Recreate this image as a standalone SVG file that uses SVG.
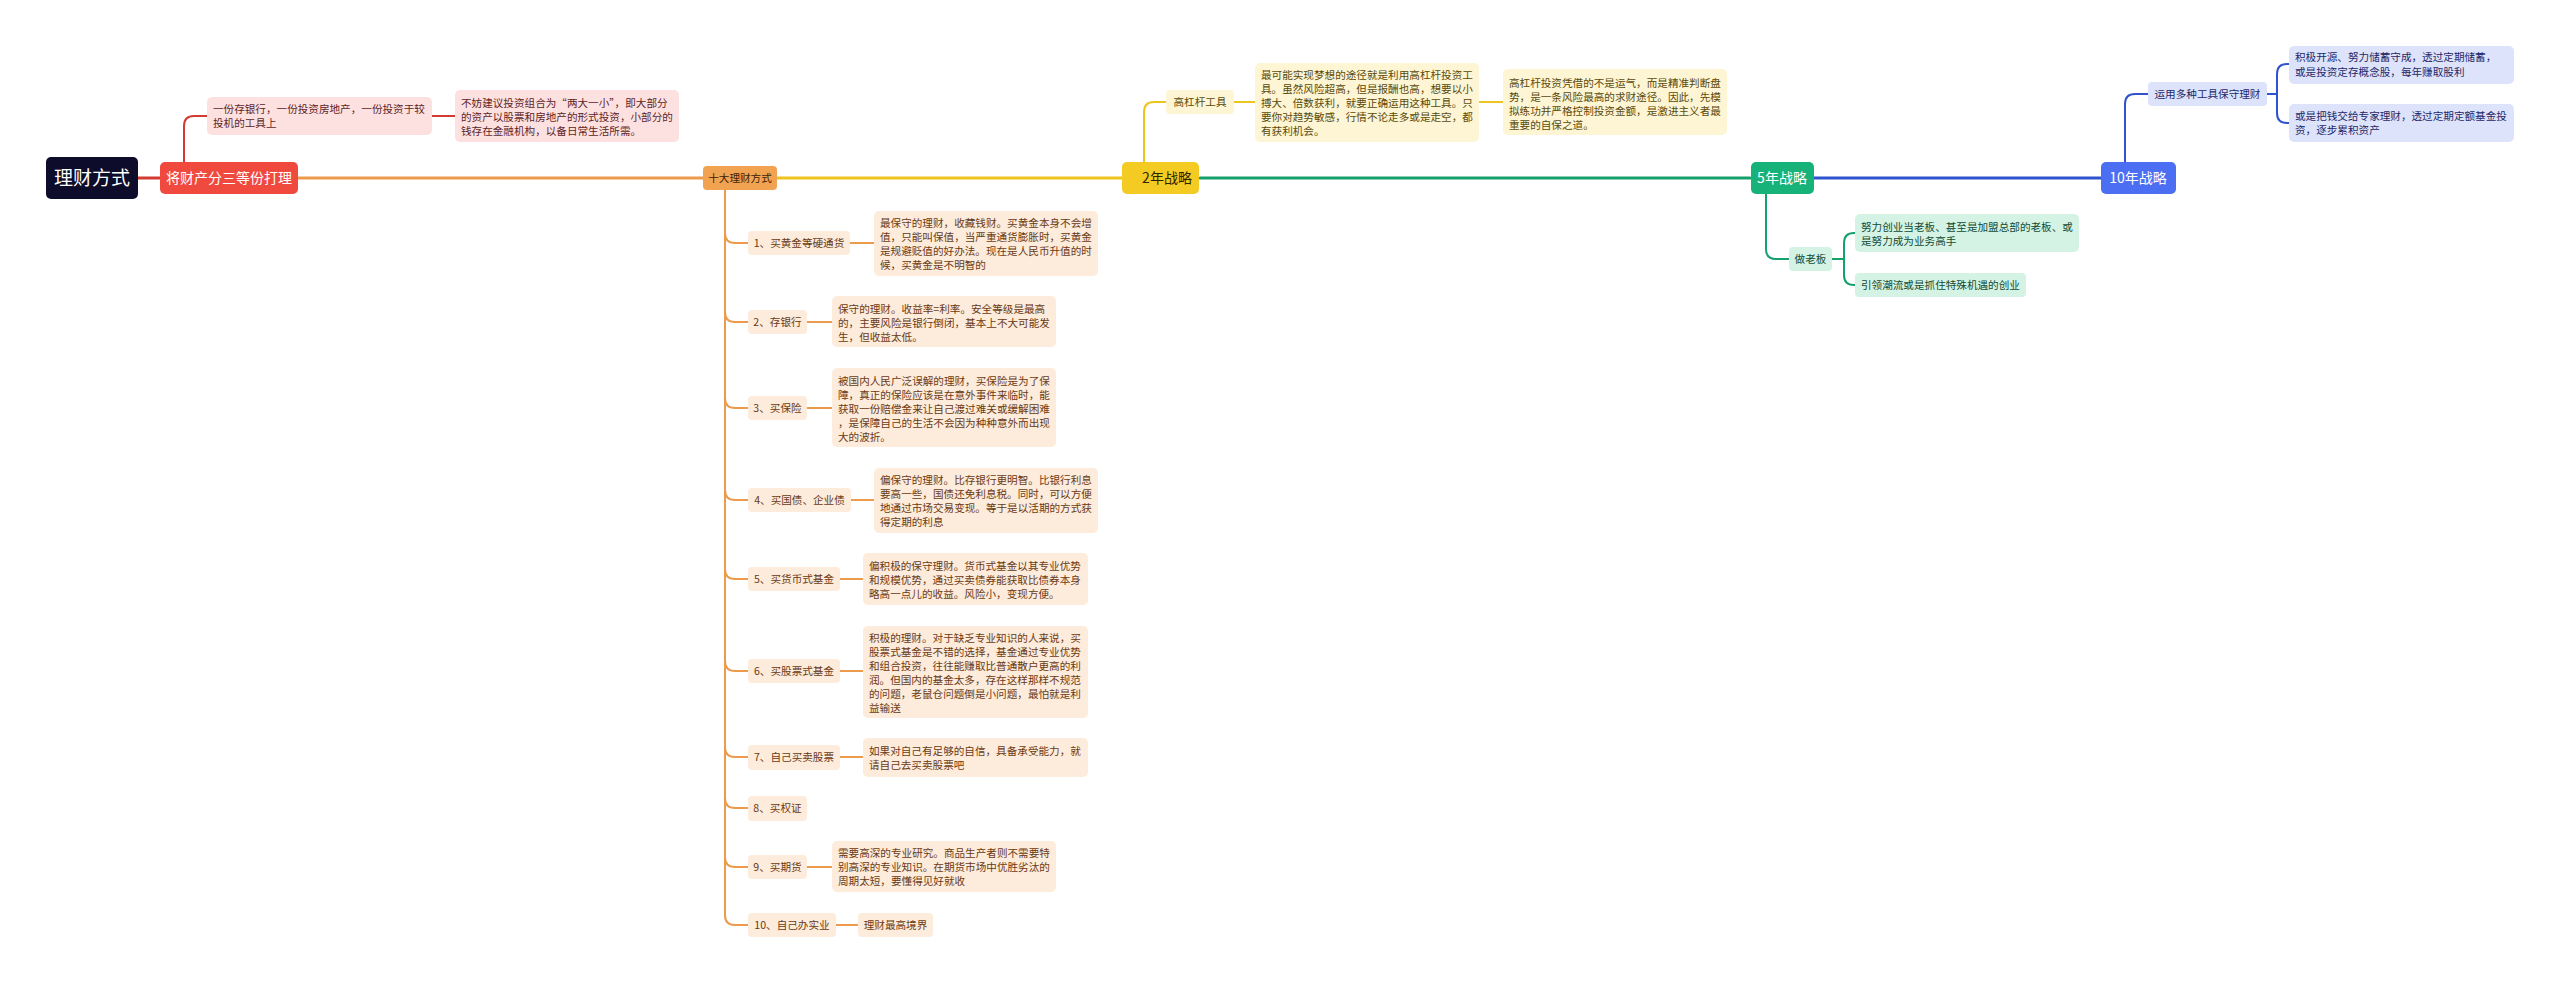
<svg xmlns="http://www.w3.org/2000/svg" width="2560" height="983" viewBox="0 0 2560 983">
<style>
text{font-family:"Noto Sans CJK SC","Noto Sans",sans-serif;}
.d{font-size:10.6px;}
.c{text-anchor:middle;}
.ln{fill:none;stroke-linecap:round;}
.trunk{stroke-width:3;}
.br{stroke-width:2;}
.red{stroke:#d23b31;}
.org{stroke:#ec9a4c;}
.yel{stroke:#eec51f;}
.grn{stroke:#15a06c;}
.blu{stroke:#3152cf;}
.pk{fill:#fde1e1;}
.pkt{fill:#5e1f1f;}
.pe{fill:#fdebdb;}
.pet{fill:#6a3a14;}
.yl{fill:#fdf5d4;}
.ylt{fill:#5a4a0a;}
.gn{fill:#d4f3e5;}
.gnt{fill:#124a33;}
.bl{fill:#dde3fa;}
.blt{fill:#1d2768;}
</style>
<rect width="2560" height="983" fill="#ffffff"/>
<g id="connectors">
<path class="ln trunk red" d="M138,178 L160,178"/>
<path class="ln trunk org" d="M298,178 L703,178"/>
<path class="ln trunk yel" d="M777,178 L1123,178"/>
<path class="ln trunk grn" d="M1200,178 L1750,178"/>
<path class="ln trunk blu" d="M1814,178 L2101,178"/>
<path class="ln br red" d="M184,162 L184,126 Q184,116 194,116 L207,116"/>
<path class="ln br red" d="M432,116 L455,116"/>
<path class="ln br yel" d="M1144,162 L1144,112 Q1144,102 1154,102 L1166,102"/>
<path class="ln br yel" d="M1234,102 L1255,102"/>
<path class="ln br yel" d="M1479,102 L1503,102"/>
<path class="ln br grn" d="M1766,194 L1766,249 Q1766,259 1776,259 L1789,259"/>
<path class="ln br grn" d="M1832,259 L1844,259"/>
<path class="ln br grn" d="M1844,259 L1844,243 Q1844,233 1854,233 L1855,233"/>
<path class="ln br grn" d="M1844,259 L1844,275 Q1844,285 1854,285 L1855,285"/>
<path class="ln br blu" d="M2125,162 L2125,104 Q2125,94 2135,94 L2148,94"/>
<path class="ln br blu" d="M2267,94 L2277,94"/>
<path class="ln br blu" d="M2277,94 L2277,74 Q2277,64 2287,64 L2289,64"/>
<path class="ln br blu" d="M2277,94 L2277,113 Q2277,123 2287,123 L2289,123"/>
<path class="ln br org" d="M725,190 L725,233 Q725,243 735,243 L748,243"/>
<path class="ln br org" d="M725,190 L725,312 Q725,322 735,322 L748,322"/>
<path class="ln br org" d="M725,190 L725,398 Q725,408 735,408 L748,408"/>
<path class="ln br org" d="M725,190 L725,490 Q725,500 735,500 L748,500"/>
<path class="ln br org" d="M725,190 L725,569 Q725,579 735,579 L748,579"/>
<path class="ln br org" d="M725,190 L725,661 Q725,671 735,671 L748,671"/>
<path class="ln br org" d="M725,190 L725,747 Q725,757 735,757 L748,757"/>
<path class="ln br org" d="M725,190 L725,798 Q725,808 735,808 L748,808"/>
<path class="ln br org" d="M725,190 L725,857 Q725,867 735,867 L748,867"/>
<path class="ln br org" d="M725,190 L725,915 Q725,925 735,925 L748,925"/>
<path class="ln br org" d="M850,243 L874,243"/>
<path class="ln br org" d="M807,322 L832,322"/>
<path class="ln br org" d="M807,408 L832,408"/>
<path class="ln br org" d="M851,500 L874,500"/>
<path class="ln br org" d="M840,579 L863,579"/>
<path class="ln br org" d="M840,671 L863,671"/>
<path class="ln br org" d="M840,757 L863,757"/>
<path class="ln br org" d="M807,867 L832,867"/>
<path class="ln br org" d="M836,925 L858,925"/>
</g>
<g id="root"><rect x="46" y="157" width="92" height="42" rx="5" fill="#0d0c2b"/><text x="92" y="185" class="c" font-size="19" fill="#ffffff">理财方式</text></g>
<g id="n-split"><rect x="160" y="162" width="138" height="32" rx="5" fill="#f04a3e"/><text x="229" y="183" class="c" font-size="14" fill="#ffffff">将财产分三等份打理</text></g>
<g id="n-split-1"><rect x="207" y="97" width="225" height="38" rx="5" class="pk"/><text class="d pkt" x="213"><tspan x="213" y="113">一份存银行，一份投资房地产，一份投资于较</tspan><tspan x="213" y="127">投机的工具上</tspan></text></g>
<g id="n-split-2"><rect x="455" y="90" width="224" height="52" rx="5" class="pk"/><text class="d pkt" x="461"><tspan x="461" y="107">不妨建议投资组合为“两大一小”，即大部分</tspan><tspan x="461" y="121">的资产以股票和房地产的形式投资，小部分的</tspan><tspan x="461" y="135">钱存在金融机构，以备日常生活所需。</tspan></text></g>
<g id="n-ten"><rect x="703" y="166" width="74" height="24" rx="4" fill="#f2a352"/><text x="740" y="182" class="c" font-size="10.6" fill="#3d2205">十大理财方式</text></g>
<g id="n-2y"><rect x="1122" y="162" width="77" height="32" rx="5" fill="#f3cb22"/><text x="1167" y="183" class="c" font-size="14" fill="#2d2500">2年战略</text></g>
<g id="n-5y"><rect x="1751" y="162" width="63" height="32" rx="5" fill="#17b279"/><text x="1782" y="183" class="c" font-size="14" fill="#ffffff">5年战略</text></g>
<g id="n-10y"><rect x="2101" y="162" width="75" height="32" rx="5" fill="#4c6ef2"/><text x="2138" y="183" class="c" font-size="14" fill="#ffffff">10年战略</text></g>
<g id="n-lever"><rect x="1166" y="90" width="68" height="24" rx="4" class="yl"/><text x="1200" y="106" class="c d ylt">高杠杆工具</text></g>
<g id="n-lever-1"><rect x="1255" y="63" width="224" height="79" rx="5" class="yl"/><text class="d ylt"><tspan x="1261" y="79">最可能实现梦想的途径就是利用高杠杆投资工</tspan><tspan x="1261" y="93">具。虽然风险超高，但是报酬也高，想要以小</tspan><tspan x="1261" y="107">搏大、倍数获利，就要正确运用这种工具。只</tspan><tspan x="1261" y="121">要你对趋势敏感，行情不论走多或是走空，都</tspan><tspan x="1261" y="135">有获利机会。</tspan></text></g>
<g id="n-lever-2"><rect x="1503" y="69" width="224" height="66" rx="5" class="yl"/><text class="d ylt"><tspan x="1509" y="87">高杠杆投资凭借的不是运气，而是精准判断盘</tspan><tspan x="1509" y="101">势，是一条风险最高的求财途径。因此，先模</tspan><tspan x="1509" y="115">拟练功并严格控制投资金额，是激进主义者最</tspan><tspan x="1509" y="129">重要的自保之道。</tspan></text></g>
<g id="n-boss"><rect x="1789" y="247" width="43" height="24" rx="4" class="gn"/><text x="1810.5" y="263" class="c d gnt">做老板</text></g>
<g id="n-boss-1"><rect x="1855" y="214" width="224" height="38" rx="5" class="gn"/><text class="d gnt"><tspan x="1861" y="231">努力创业当老板、甚至是加盟总部的老板、或</tspan><tspan x="1861" y="245">是努力成为业务高手</tspan></text></g>
<g id="n-boss-2"><rect x="1855" y="273" width="171" height="24" rx="4" class="gn"/><text x="1861" y="289" class="d gnt">引领潮流或是抓住特殊机遇的创业</text></g>
<g id="n-safe"><rect x="2148" y="82" width="119" height="24" rx="4" class="bl"/><text x="2207.5" y="98" class="c d blt">运用多种工具保守理财</text></g>
<g id="n-safe-1"><rect x="2289" y="46" width="225" height="38" rx="5" class="bl"/><text class="d blt"><tspan x="2295" y="61"> 积极开源、努力储蓄守成，透过定期储蓄，</tspan><tspan x="2295" y="76">或是投资定存概念股，每年赚取股利</tspan></text></g>
<g id="n-safe-2"><rect x="2289" y="104" width="225" height="38" rx="5" class="bl"/><text class="d blt"><tspan x="2295" y="120">或是把钱交给专家理财，透过定期定额基金投</tspan><tspan x="2295" y="134">资，逐步累积资产</tspan></text></g>
<g id="n-t1"><rect x="748" y="231" width="102" height="24" rx="4" class="pe"/><text x="799" y="247" class="c d pet">1、买黄金等硬通货</text></g>
<g id="n-t1d"><rect x="874" y="211" width="224" height="65" rx="5" class="pe"/><text class="d pet"><tspan x="880" y="227">最保守的理财，收藏钱财。买黄金本身不会增</tspan><tspan x="880" y="241">值，只能叫保值，当严重通货膨胀时，买黄金</tspan><tspan x="880" y="255">是规避贬值的好办法。现在是人民币升值的时</tspan><tspan x="880" y="269">候，买黄金是不明智的</tspan></text></g>
<g id="n-t2"><rect x="748" y="310" width="59" height="24" rx="4" class="pe"/><text x="777.5" y="326" class="c d pet">2、存银行</text></g>
<g id="n-t2d"><rect x="832" y="296" width="224" height="51" rx="5" class="pe"/><text class="d pet"><tspan x="838" y="313">保守的理财。收益率=利率。安全等级是最高</tspan><tspan x="838" y="327">的，主要风险是银行倒闭，基本上不大可能发</tspan><tspan x="838" y="341">生，但收益太低。</tspan></text></g>
<g id="n-t3"><rect x="748" y="396" width="59" height="24" rx="4" class="pe"/><text x="777.5" y="412" class="c d pet">3、买保险</text></g>
<g id="n-t3d"><rect x="832" y="368" width="224" height="79" rx="5" class="pe"/><text class="d pet"><tspan x="838" y="385">被国内人民广泛误解的理财，买保险是为了保</tspan><tspan x="838" y="399">障，真正的保险应该是在意外事件来临时，能</tspan><tspan x="838" y="413">获取一份赔偿金来让自己渡过难关或缓解困难</tspan><tspan x="838" y="427">，是保障自己的生活不会因为种种意外而出现</tspan><tspan x="838" y="441">大的波折。</tspan></text></g>
<g id="n-t4"><rect x="748" y="488" width="103" height="24" rx="4" class="pe"/><text x="799.5" y="504" class="c d pet">4、买国债、企业债</text></g>
<g id="n-t4d"><rect x="874" y="468" width="224" height="65" rx="5" class="pe"/><text class="d pet"><tspan x="880" y="484">偏保守的理财。比存银行更明智。比银行利息</tspan><tspan x="880" y="498">要高一些，国债还免利息税。同时，可以方便</tspan><tspan x="880" y="512">地通过市场交易变现。等于是以活期的方式获</tspan><tspan x="880" y="526">得定期的利息</tspan></text></g>
<g id="n-t5"><rect x="748" y="567" width="92" height="24" rx="4" class="pe"/><text x="794" y="583" class="c d pet">5、买货币式基金</text></g>
<g id="n-t5d"><rect x="863" y="553" width="225" height="52" rx="5" class="pe"/><text class="d pet"><tspan x="869" y="570">偏积极的保守理财。货币式基金以其专业优势</tspan><tspan x="869" y="584">和规模优势，通过买卖债券能获取比债券本身</tspan><tspan x="869" y="598">略高一点儿的收益。风险小，变现方便。</tspan></text></g>
<g id="n-t6"><rect x="748" y="659" width="92" height="24" rx="4" class="pe"/><text x="794" y="675" class="c d pet">6、买股票式基金</text></g>
<g id="n-t6d"><rect x="863" y="626" width="225" height="92" rx="5" class="pe"/><text class="d pet"><tspan x="869" y="642">积极的理财。对于缺乏专业知识的人来说，买</tspan><tspan x="869" y="656">股票式基金是不错的选择，基金通过专业优势</tspan><tspan x="869" y="670">和组合投资，往往能赚取比普通散户更高的利</tspan><tspan x="869" y="684">润。但国内的基金太多，存在这样那样不规范</tspan><tspan x="869" y="698">的问题，老鼠仓问题倒是小问题，最怕就是利</tspan><tspan x="869" y="712">益输送</tspan></text></g>
<g id="n-t7"><rect x="748" y="745" width="92" height="25" rx="4" class="pe"/><text x="794" y="761" class="c d pet">7、自己买卖股票</text></g>
<g id="n-t7d"><rect x="863" y="738" width="225" height="39" rx="5" class="pe"/><text class="d pet"><tspan x="869" y="755">如果对自己有足够的自信，具备承受能力，就</tspan><tspan x="869" y="769">请自己去买卖股票吧</tspan></text></g>
<g id="n-t8"><rect x="748" y="796" width="59" height="25" rx="4" class="pe"/><text x="777.5" y="812" class="c d pet">8、买权证</text></g>
<g id="n-t9"><rect x="748" y="855" width="59" height="24" rx="4" class="pe"/><text x="777.5" y="871" class="c d pet">9、买期货</text></g>
<g id="n-t9d"><rect x="832" y="841" width="224" height="51" rx="5" class="pe"/><text class="d pet"><tspan x="838" y="857">需要高深的专业研究。商品生产者则不需要特</tspan><tspan x="838" y="871">别高深的专业知识。在期货市场中优胜劣汰的</tspan><tspan x="838" y="885">周期太短，要懂得见好就收</tspan></text></g>
<g id="n-t10"><rect x="748" y="913" width="88" height="24" rx="4" class="pe"/><text x="792" y="929" class="c d pet">10、自己办实业</text></g>
<g id="n-t10d"><rect x="858" y="913" width="75" height="24" rx="4" class="pe"/><text x="895.5" y="929" class="c d pet">理财最高境界</text></g>
</svg>
